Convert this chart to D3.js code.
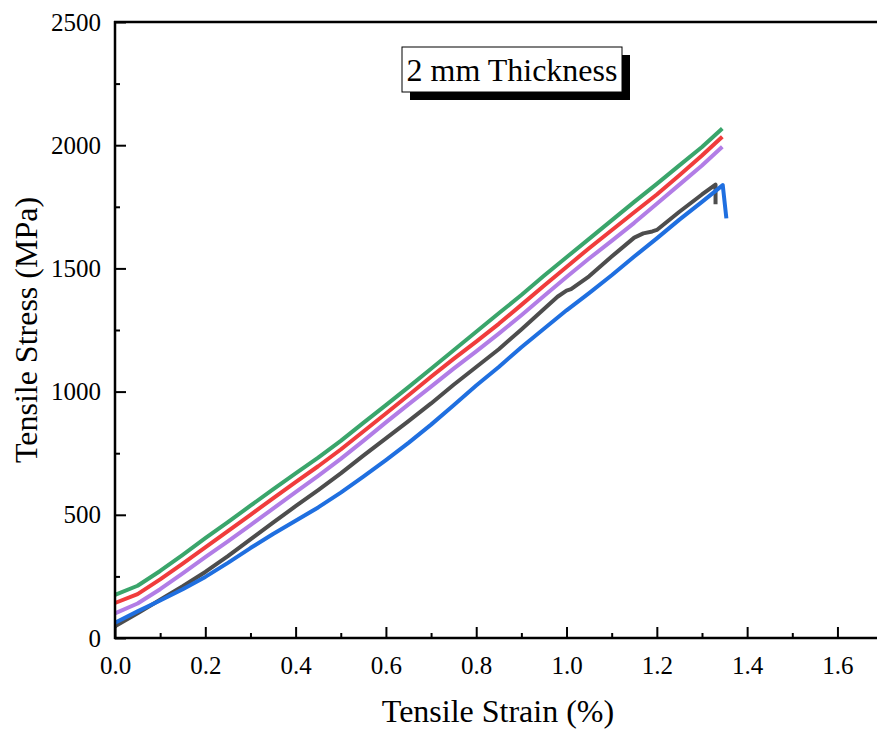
<!DOCTYPE html>
<html>
<head>
<meta charset="utf-8">
<script src="https://cdn.jsdelivr.net/npm/d3@7"></script>
<style>
  body { margin: 0; background: #fff; }
  svg text { font-family: "Liberation Serif", "Times New Roman", serif; fill: #000; }
</style>
</head>
<body>
<div id="chart"></div>
<script>
// strain (%) values shared by the smooth part of every curve
var strain = [0, 0.05, 0.1, 0.15, 0.2, 0.25, 0.3, 0.35, 0.4, 0.45, 0.5, 0.55, 0.6, 0.65,
  0.7, 0.75, 0.8, 0.85, 0.9, 0.95, 1.0, 1.05, 1.1, 1.15, 1.2, 1.25, 1.3, 1.345];

var greenStress = [175, 212, 272, 337, 405, 470, 537, 603, 668, 732, 800, 873, 945, 1018,
  1093, 1168, 1243, 1318, 1392, 1470, 1545, 1620, 1695, 1770, 1843, 1918, 1993, 2068];
var redStress = [142, 178, 238, 302, 368, 434, 500, 567, 633, 697, 765, 838, 911, 985,
  1060, 1133, 1203, 1275, 1352, 1430, 1506, 1582, 1655, 1728, 1800, 1878, 1958, 2034];
var purpleStress = [100, 140, 198, 262, 328, 392, 458, 525, 592, 658, 727, 800, 875, 948,
  1020, 1093, 1163, 1235, 1310, 1388, 1465, 1540, 1612, 1685, 1762, 1840, 1918, 1994];

// black and blue curves have their own strain points (kinks + failure drop)
var blackStrain = [0, 0.05, 0.1, 0.15, 0.2, 0.25, 0.3, 0.35, 0.4, 0.45, 0.5, 0.55, 0.6, 0.65,
  0.7, 0.75, 0.8, 0.85, 0.9, 0.95, 0.98, 1.0, 1.01, 1.05, 1.1, 1.15, 1.17, 1.19, 1.2, 1.25, 1.3, 1.33, 1.33];
var blackStress = [48, 100, 155, 210, 268, 332, 400, 468, 535, 600, 668, 740, 810, 880,
  952, 1028, 1100, 1172, 1252, 1335, 1385, 1410, 1416, 1468, 1548, 1625, 1642, 1650, 1656, 1730, 1800, 1840, 1760];

var blueStrain = [0, 0.05, 0.1, 0.15, 0.2, 0.25, 0.3, 0.35, 0.4, 0.45, 0.5, 0.55, 0.6, 0.65,
  0.7, 0.75, 0.8, 0.85, 0.9, 0.95, 1.0, 1.05, 1.1, 1.15, 1.2, 1.25, 1.3, 1.346, 1.354];
var blueStress = [62, 108, 152, 198, 248, 305, 365, 422, 476, 530, 590, 655, 722, 792,
  866, 945, 1025, 1100, 1180, 1255, 1330, 1400, 1472, 1548, 1622, 1698, 1770, 1838, 1703];

var xTicks = [0, 0.2, 0.4, 0.6, 0.8, 1.0, 1.2, 1.4, 1.6];
var xMinor = [0.1, 0.3, 0.5, 0.7, 0.9, 1.1, 1.3, 1.5];
var yTicks = [0, 500, 1000, 1500, 2000, 2500];
var yMinor = [250, 750, 1250, 1750, 2250];

var series = [
  { name: "black", x: blackStrain, y: blackStress, color: "#4d4d4d" },
  { name: "blue", x: blueStrain, y: blueStress, color: "#1f6fe0" },
  { name: "purple", x: strain, y: purpleStress, color: "#b27de6" },
  { name: "red", x: strain, y: redStress, color: "#f03c3c" },
  { name: "green", x: strain, y: greenStress, color: "#3aa56b" }
];

var svgWidth = 877, svgHeight = 733;
var margin = { top: 22, left: 115 };
var plotBottom = 638;

var svg = d3.select("#chart").append("svg")
  .attr("width", svgWidth)
  .attr("height", svgHeight);

var xScale = d3.scaleLinear().domain([0, 1.7]).range([margin.left, margin.left + 767.6]);
var yScale = d3.scaleLinear().domain([0, 2500]).range([plotBottom, margin.top]);

// curves
var line = d3.line()
  .x(function(d) { return xScale(d[0]); })
  .y(function(d) { return yScale(d[1]); });

series.forEach(function(s) {
  var pts = s.x.map(function(v, i) { return [v, s.y[i]]; });
  svg.append("path")
    .datum(pts)
    .attr("d", line)
    .attr("fill", "none")
    .attr("stroke", s.color)
    .attr("stroke-width", 4)
    .attr("stroke-linejoin", "round");
});

// axes
var xAxis = d3.axisBottom(xScale).tickValues(xTicks).tickSize(-11).tickPadding(18)
  .tickFormat(d3.format(".1f"));
var xAxisMinor = d3.axisBottom(xScale).tickValues(xMinor).tickSize(-5).tickFormat("");
var yAxis = d3.axisLeft(yScale).tickValues(yTicks).tickSize(-11).tickPadding(14)
  .tickFormat(d3.format("d"));
var yAxisMinor = d3.axisLeft(yScale).tickValues(yMinor).tickSize(-5).tickFormat("");

function styleAxis(g) {
  g.selectAll("path").remove();
  g.selectAll("line").attr("stroke", "#000").attr("stroke-width", 2);
  g.selectAll("text").style("font-size", "25px").attr("fill", "#000");
}

svg.append("g").attr("transform", "translate(0," + plotBottom + ")").call(xAxis).call(styleAxis);
svg.append("g").attr("transform", "translate(0," + plotBottom + ")").call(xAxisMinor).call(styleAxis);
svg.append("g").attr("transform", "translate(" + margin.left + ",0)").call(yAxis).call(styleAxis);
svg.append("g").attr("transform", "translate(" + margin.left + ",0)").call(yAxisMinor).call(styleAxis);

// frame lines (left, bottom, top)
svg.append("line").attr("x1", margin.left).attr("x2", margin.left)
  .attr("y1", margin.top - 1).attr("y2", plotBottom + 1)
  .attr("stroke", "#000").attr("stroke-width", 2.5);
svg.append("line").attr("x1", margin.left - 1).attr("x2", svgWidth)
  .attr("y1", plotBottom).attr("y2", plotBottom)
  .attr("stroke", "#000").attr("stroke-width", 2.5);
svg.append("line").attr("x1", margin.left - 1).attr("x2", svgWidth)
  .attr("y1", margin.top).attr("y2", margin.top)
  .attr("stroke", "#000").attr("stroke-width", 2.5);

// axis titles
svg.append("text")
  .attr("x", 498)
  .attr("y", 722)
  .attr("text-anchor", "middle")
  .style("font-size", "32px")
  .text("Tensile Strain (%)");

svg.append("text")
  .attr("transform", "translate(37,330) rotate(-90)")
  .attr("text-anchor", "middle")
  .style("font-size", "32px")
  .text("Tensile Stress (MPa)");

// label box with drop shadow
svg.append("rect").attr("x", 410).attr("y", 55).attr("width", 220).attr("height", 45)
  .attr("fill", "#000");
svg.append("rect").attr("x", 402).attr("y", 47).attr("width", 220).attr("height", 45)
  .attr("fill", "#fff").attr("stroke", "#000").attr("stroke-width", 1);
svg.append("text")
  .attr("x", 512)
  .attr("y", 81)
  .attr("text-anchor", "middle")
  .style("font-size", "32px")
  .text("2 mm Thickness");
</script>
</body>
</html>
